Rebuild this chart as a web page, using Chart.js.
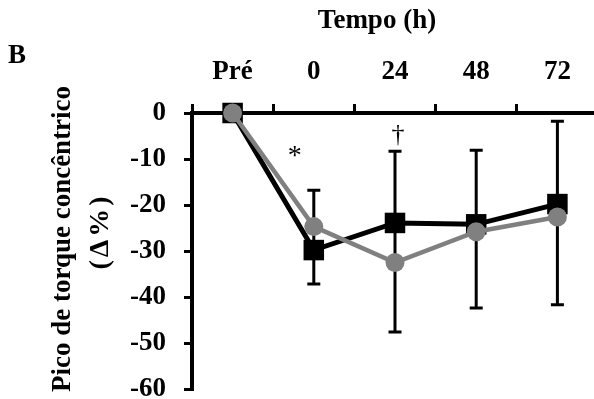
<!DOCTYPE html>
<html>
<head>
<meta charset="utf-8">
<script src="https://cdn.jsdelivr.net/npm/chart.js@4"></script>
<style>
  html, body { margin: 0; padding: 0; background: #fff; overflow: hidden; }
  canvas { display: block; }
</style>
</head>
<body>
<canvas id="torque" width="598" height="399"></canvas>
<script>
// dados (Δ% do pico de torque concêntrico)
const tempos = ["Pré", "0", "24", "48", "72"];
const grupoPreto = [0, -29.8, -23.9, -24.2, -19.8];
const grupoCinza = [0, -24.7, -32.5, -25.8, -22.6];
// barras de erro: limite superior e inferior em cada tempo
const erroSup = [null, -16.8, -8.3, -8.1, -1.8];
const erroInf = [null, -37.2, -47.6, -42.4, -41.7];
// marcas de significância
const marcas = ["", "*", "†", "", ""];
const marcasValor = [null, -9.4, -4.8, null, null];

const serif = "'Liberation Serif', 'Times New Roman', serif";

// ----- barras de erro (desenhadas atrás das linhas) -----
const errorBars = {
  id: "errorBars",
  beforeDatasetsDraw(chart) {
    const { ctx, scales: { x, y } } = chart;
    ctx.save();
    ctx.strokeStyle = "#000";
    ctx.lineWidth = 3;
    const cap = 6.5;
    tempos.forEach((t, i) => {
      if (erroSup[i] == null) return;
      const px = x.getPixelForValue(i);
      const y1 = y.getPixelForValue(erroSup[i]);
      const y2 = y.getPixelForValue(erroInf[i]);
      ctx.beginPath();
      ctx.moveTo(px, y1); ctx.lineTo(px, y2);
      ctx.moveTo(px - cap, y1); ctx.lineTo(px + cap, y1);
      ctx.moveTo(px - cap, y2); ctx.lineTo(px + cap, y2);
      ctx.stroke();
    });
    ctx.restore();
  },
};

// ----- textos: títulos, letra do painel, marcas -----
const textos = {
  id: "textos",
  afterDraw(chart) {
    const { ctx, scales: { x, y } } = chart;
    ctx.save();
    ctx.fillStyle = "#000";

    ctx.font = `bold 27px ${serif}`;
    ctx.textBaseline = "alphabetic";
    ctx.textAlign = "left";
    ctx.fillText("B", 8, 63);

    ctx.textAlign = "center";
    ctx.fillText("Tempo (h)", 377, 28);

    // título do eixo y
    ctx.save();
    ctx.translate(63, 239);
    ctx.rotate(-Math.PI / 2);
    ctx.textBaseline = "middle";
    ctx.fillText("Pico de torque concêntrico", 0, 0);
    ctx.restore();
    ctx.save();
    ctx.translate(101, 233);
    ctx.rotate(-Math.PI / 2);
    ctx.textBaseline = "middle";
    ctx.font = `bold 28px ${serif}`;
    ctx.letterSpacing = "3px";
    ctx.fillText("(Δ%)", 1.5, 0);
    ctx.restore();

    ctx.textBaseline = "middle";
    marcas.forEach((m, i) => {
      if (!m) return;
      ctx.font = m === "*" ? `28px ${serif}` : `26px ${serif}`;
      const dx = m === "*" ? -19 : 3;
      ctx.fillText(m, x.getPixelForValue(i) + dx, y.getPixelForValue(marcasValor[i]));
    });
    ctx.restore();
  },
};

new Chart(document.getElementById("torque"), {
  type: "line",
  data: {
    labels: tempos,
    datasets: [
      {
        label: "cinza",
        data: grupoCinza,
        borderColor: "#808080",
        backgroundColor: "#808080",
        borderWidth: 4.5,
        pointStyle: "circle",
        pointRadius: 9.5,
        pointBorderWidth: 0,
        pointHoverRadius: 9.5,
        tension: 0,
        clip: false,
      },
      {
        label: "preto",
        data: grupoPreto,
        borderColor: "#000",
        backgroundColor: "#000",
        borderWidth: 5,
        pointStyle: "rect",
        pointRadius: 14.5,
        pointBorderWidth: 0,
        pointHoverRadius: 14.5,
        tension: 0,
        clip: false,
      },
    ],
  },
  options: {
    responsive: false,
    animation: false,
    devicePixelRatio: 1,
    layout: { autoPadding: false, padding: { top: 0, left: 0, right: 0, bottom: 10 } },
    plugins: { legend: { display: false }, tooltip: { enabled: false } },
    events: [],
    scales: {
      x: {
        type: "category",
        position: "top",
        offset: true,
        grid: {
          offset: true,
          drawOnChartArea: false,
          drawTicks: true,
          tickLength: 9,
          color: "#000",
          lineWidth: 3,
        },
        border: { display: true, color: "#000", width: 4 },
        ticks: {
          color: "#000",
          font: { family: serif, size: 27, weight: "bold" },
          padding: 16,
          maxRotation: 0,
          autoSkip: false,
        },
        afterFit(scale) {
          scale.height = 113;
          scale.paddingLeft = 0;
          scale.paddingRight = 0;
        },
      },
      y: {
        min: -60,
        max: 0,
        grid: {
          drawOnChartArea: false,
          drawTicks: true,
          tickLength: 8,
          color: "#000",
          lineWidth: 3,
        },
        border: { display: true, color: "#000", width: 4 },
        ticks: {
          stepSize: 10,
          color: "#000",
          font: { family: serif, size: 27, weight: "bold" },
          padding: 18,
        },
        afterFit(scale) {
          scale.width = 192;
          scale.paddingTop = 0;
          scale.paddingBottom = 0;
        },
      },
    },
  },
  plugins: [errorBars, textos],
});
</script>
</body>
</html>
